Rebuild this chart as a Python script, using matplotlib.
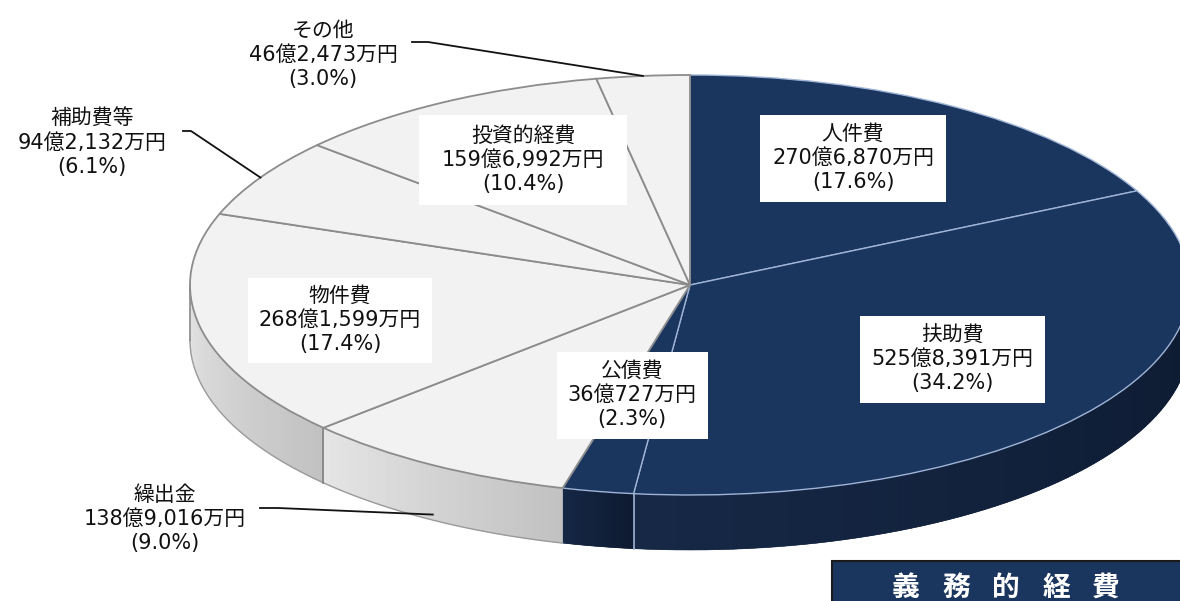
import numpy as np
import matplotlib
matplotlib.use("Agg")
import matplotlib.pyplot as plt
from matplotlib.patches import Polygon, Rectangle

plt.rcParams['font.family'] = ['DejaVu Sans', 'Noto Sans CJK JP']

# 歳出（性質別）の内訳
categories = ['人件費', '扶助費', '公債費', '繰出金', '物件費', '補助費等', '投資的経費', 'その他']
amounts = ['270億6,870万円', '525億8,391万円', '36億727万円', '138億9,016万円',
           '268億1,599万円', '94億2,132万円', '159億6,992万円', '46億2,473万円']
shares = [17.6, 34.2, 2.3, 9.0, 17.4, 6.1, 10.4, 3.0]
mandatory = [True, True, True, False, False, False, False, False]  # 義務的経費
title_chars = '義務的経費'

# layout of the tilted pie (pixels)
W, H = 1180, 601
CX, CY, RX, RY = 690, 285, 500, 210
DEPTH = 55

NAVY = '#1a355e'
LIGHT = '#f2f2f2'
EDGE_LIGHT = '#8c8c8c'
EDGE_NAVY = '#9fb4d6'


def px(x, y):
    # pixel position -> data coords of the unit pie
    return (x - CX) / RX, (CY - y) / RY


fig = plt.figure(figsize=(W / 100, H / 100), dpi=100)
ax = fig.add_axes([0, 0, 1, 1])

theta = np.concatenate([[0], np.cumsum(shares)]) / sum(shares) * 360
d = DEPTH / RY

# side of the pie (front half only), shaded per slice
for i in range(len(shares)):
    lo, hi = max(theta[i], 90), min(theta[i + 1], 270)
    if lo >= hi:
        continue
    if mandatory[i]:
        c_dark, c_lite = np.array([13, 26, 48]) / 255, np.array([22, 40, 70]) / 255
    else:
        c_dark, c_lite = np.array([0.76] * 3), np.array([0.90] * 3)
    t = np.radians(np.linspace(lo, hi, 60))
    # solid base underneath so the strip seams do not show
    base = np.concatenate([np.c_[np.sin(t), np.cos(t)],
                           np.c_[np.sin(t), np.cos(t) - d][::-1]])
    ax.add_patch(Polygon(base, closed=True, facecolor=(c_dark + c_lite) / 2,
                         edgecolor='none', zorder=1))
    for k in range(len(t) - 1):
        f = k / (len(t) - 2)
        col = c_dark + (c_lite - c_dark) * f
        x0, x1 = np.sin(t[k]), np.sin(t[k + 1])
        y0, y1 = np.cos(t[k]), np.cos(t[k + 1])
        ax.add_patch(Polygon([(x0, y0), (x1, y1), (x1, y1 - d), (x0, y0 - d)],
                             closed=True, facecolor=col, edgecolor=col, lw=0.4,
                             zorder=1.5))
    if not mandatory[i]:
        ax.plot(np.sin(t), np.cos(t) - d, color='#9a9a9a', lw=1, zorder=2)

# vertical seams on the side
for i in range(1, len(shares)):
    a = theta[i]
    if 90 < a < 270 and mandatory[i - 1] == mandatory[i]:
        col = EDGE_NAVY if mandatory[i] else '#808080'
        r = np.radians(a)
        ax.plot([np.sin(r)] * 2, [np.cos(r), np.cos(r) - d], color=col, lw=1.2, zorder=2)
ax.plot([-1, -1], [0, -d], color='#8c8c8c', lw=1.2, zorder=2)

# top face
face = [NAVY if m else LIGHT for m in mandatory]
wedges, _ = ax.pie(shares, colors=face, startangle=90, counterclock=False,
                   radius=1, center=(0, 0), wedgeprops=dict(linewidth=1.3, zorder=3))
for w, m in zip(wedges, mandatory):
    w.set_edgecolor(EDGE_NAVY if m else EDGE_LIGHT)
    if m:
        w.set_linewidth(1.0)

ax.set_aspect('auto')
ax.set_xlim(px(0, 0)[0], px(W, 0)[0])
ax.set_ylim(px(0, H)[1], px(0, 0)[1])
ax.axis('off')

labels = [f'{c}\n{a}\n({s:.1f}%)' for c, a, s in zip(categories, amounts, shares)]
FS = 15

# labels inside white boxes: center x, center y, width, height (pixels)
boxes = {0: (853, 158, 186, 87), 1: (952, 359, 185, 87), 2: (632, 395, 151, 87),
         4: (340, 320, 184, 85), 6: (523, 160, 207, 90)}
for i, (bx, by, bw, bh) in boxes.items():
    x0, y0 = px(bx - bw / 2, by + bh / 2)
    ax.add_patch(Rectangle((x0, y0), bw / RX, bh / RY, facecolor='white',
                           edgecolor='none', zorder=4))
    ax.text(*px(bx, by), labels[i], ha='center', va='center', fontsize=FS,
            linespacing=1.25, color='#111111', zorder=5)

# labels outside with leader lines: text center, line start, depth factor of end point
outside = {7: ((323, 55), [(412, 42), (428, 42)], 0.0),
           5: ((92, 143), [(183, 131), (191, 131)], 0.0),
           3: ((165, 519), [(260, 508), (278, 508)], 0.9)}
for i, ((tx, ty), start, dz) in outside.items():
    ax.text(*px(tx, ty), labels[i], ha='center', va='center', fontsize=FS,
            linespacing=1.25, color='#111111', zorder=5)
    mid = np.radians((theta[i] + theta[i + 1]) / 2)
    pts = [px(x, y) for x, y in start] + [(np.sin(mid), np.cos(mid) - dz * d)]
    xs, ys = zip(*pts)
    ax.plot(xs, ys, color='#111111', lw=1.3, zorder=6)

# 義務的経費 legend box
x0, y0 = px(832, 620)
ax.add_patch(Rectangle((x0, y0), 400 / RX, 59 / RY, facecolor=NAVY,
                       edgecolor='#1a1a1a', lw=1.5, zorder=6))
for k, ch in enumerate(title_chars):
    ax.text(*px(906 + 50 * k, 588), ch, ha='center', va='center', fontsize=20,
            fontweight='bold', color='white', family=['Noto Sans CJK JP'], zorder=7)

fig.savefig('out.png', dpi=100)
